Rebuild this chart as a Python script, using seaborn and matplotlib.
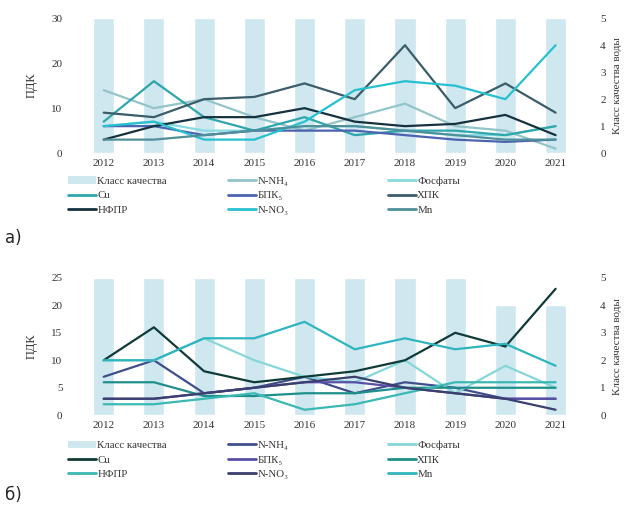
import matplotlib
matplotlib.use("Agg")
import matplotlib.pyplot as plt
import seaborn as sns
import pandas as pd
from matplotlib.patches import Patch
from matplotlib.lines import Line2D

sns.set_theme(style="white")
plt.rcParams['font.family'] = ['Liberation Serif', 'DejaVu Sans']

years = [2012, 2013, 2014, 2015, 2016, 2017, 2018, 2019, 2020, 2021]
params = ["N-NH₄", "Фосфаты", "Cu", "БПК₅", "ХПК", "НФПР", "N-NO₃", "Mn"]

# Panel a
class_a = [5, 5, 5, 5, 5, 5, 5, 5, 5, 5]
a_nh4 = [14, 10, 12, 8, 5, 8, 11, 6, 5, 1]
a_phos = [6, 7, 5, 5, 6, 6, 5, 4, 4, 6]
a_cu = [7, 16, 8, 5, 8, 4, 5, 5, 4, 6]
a_bpk = [6, 6, 4, 5, 5, 5, 4, 3, 2.5, 3]
a_hpk = [9, 8, 12, 12.5, 15.5, 12, 24, 10, 15.5, 9]
a_nfpr = [3, 6, 8, 8, 10, 7, 6, 6.5, 8.5, 4]
a_no3 = [6, 7, 3, 3, 7, 14, 16, 15, 12, 24]
a_mn = [3, 3, 4, 5, 6, 6, 5, 4, 3, 3]

# Panel b
class_b = [5, 5, 5, 5, 5, 5, 5, 5, 4, 4]
b_nh4 = [7, 10, 4, 5, 7, 4, 6, 5, 3, 3]
b_phos = [10, 10, 14, 10, 7, 6, 10, 4, 9, 5]
b_cu = [10, 16, 8, 6, 7, 8, 10, 15, 12.5, 23]
b_bpk = [3, 3, 4, 5, 6, 6, 5, 4, 3, 3]
b_hpk = [6, 6, 3.5, 3.5, 4, 4, 5, 5, 5, 5]
b_nfpr = [2, 2, 3, 4, 1, 2, 4, 6, 6, 6]
b_no3 = [3, 3, 4, 5, 6, 7, 5, 4, 3, 1]
b_mn = [10, 10, 14, 14, 17, 12, 14, 12, 13, 9]

pal_a = {"N-NH₄": "#93c4ca", "Фосфаты": "#86dbe2", "Cu": "#2ea6ac", "БПК₅": "#4b63b0",
         "ХПК": "#3a5d69", "НФПР": "#17323f", "N-NO₃": "#27c0d0", "Mn": "#4f8f99"}
pal_b = {"N-NH₄": "#3e4f8c", "Фосфаты": "#86d6d9", "Cu": "#0f3a38", "БПК₅": "#5a4fa8",
         "ХПК": "#1f8f8c", "НФПР": "#3ab8b2", "N-NO₃": "#3a3f6e", "Mn": "#2fb5bf"}
bar_color = "#cfe7ef"
text_color = "#333333"

fig = plt.figure(figsize=(6.26, 5.07), dpi=100)


def panel(rect, cls, series, pal, ymax, ystep, legend_y, label, label_y):
    axb = fig.add_axes(rect)
    dfb = pd.DataFrame({"year": years, "cls": cls})
    sns.barplot(data=dfb, x="year", y="cls", native_scale=True, color=bar_color,
                width=0.42, ax=axb, saturation=1)
    axl = axb.twinx()
    axb.yaxis.tick_right()
    axb.yaxis.set_label_position("right")
    axl.yaxis.tick_left()
    axl.yaxis.set_label_position("left")
    axb.set_ylim(0, 5)
    axb.set_yticks(range(0, 6))
    axb.set_ylabel("Класс качества воды", fontsize=8, rotation=90, labelpad=5, color=text_color)
    axb.set_xlabel("")
    rows = []
    for name, vals in zip(params, series):
        for y, v in zip(years, vals):
            rows.append({"year": y, "param": name, "val": v})
    df = pd.DataFrame(rows)
    sns.lineplot(data=df, x="year", y="val", hue="param", palette=pal, hue_order=params,
                 linewidth=1.6, ax=axl, legend=False)
    axl.set_ylim(0, ymax)
    axl.set_yticks(range(0, ymax + 1, ystep))
    axl.set_ylabel("ПДК", fontsize=9, labelpad=10, color=text_color)
    axl.set_xlabel("")
    axb.set_xlim(2011.73, 2021.28)
    axb.set_xticks(years)
    axb.set_xticklabels([str(y) for y in years])
    for a in (axb, axl):
        for s in a.spines.values():
            s.set_visible(False)
        a.tick_params(axis="x", labelsize=8, length=0, pad=4, colors=text_color)
    axb.tick_params(axis="y", labelsize=8, length=0, pad=22, right=False, labelright=True,
                    left=False, labelleft=False, colors=text_color)
    axl.tick_params(axis="y", labelsize=8, length=0, pad=20, left=False, labelleft=True,
                    right=False, labelright=False, colors=text_color)
    # legend: three columns, filled row-wise
    h = {"Класс качества": Patch(facecolor=bar_color, edgecolor="none")}
    for name in params:
        h[name] = Line2D([], [], color=pal[name], lw=2)
    cols = [["Класс качества", "Cu", "НФПР"], ["N-NH₄", "БПК₅", "N-NO₃"],
            ["Фосфаты", "ХПК", "Mn"]]
    for x0, col in zip([68 / 626, 228 / 626, 388 / 626], cols):
        fig.legend([h[k] for k in col], col, loc="upper left", bbox_to_anchor=(x0, legend_y),
                   ncol=1, frameon=False, fontsize=7.8, handlelength=2.6, handletextpad=0.1,
                   labelspacing=0.45, borderaxespad=0, borderpad=0, labelcolor=text_color)
    fig.text(0.008, label_y, label, fontsize=12, family="DejaVu Sans", va="center")


panel([0.144, 0.698, 0.766, 0.266], class_a,
      [a_nh4, a_phos, a_cu, a_bpk, a_hpk, a_nfpr, a_no3, a_mn], pal_a, 30, 10, 0.652, "а)", 0.53)
panel([0.144, 0.181, 0.766, 0.271], class_b,
      [b_nh4, b_phos, b_cu, b_bpk, b_hpk, b_nfpr, b_no3, b_mn], pal_b, 25, 5, 0.131, "б)", 0.024)

fig.savefig("out.png", dpi=100)
